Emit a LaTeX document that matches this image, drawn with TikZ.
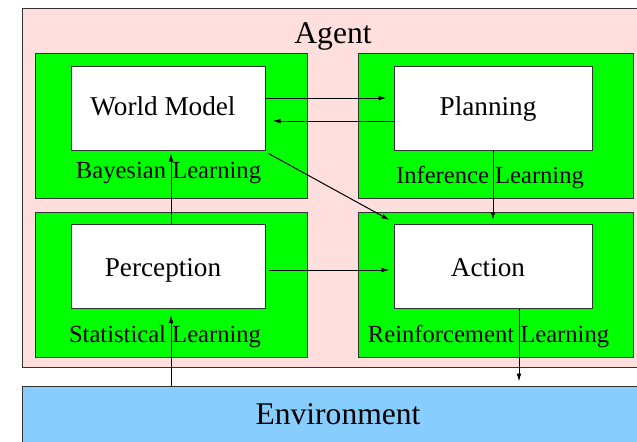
\documentclass[tikz,border=0pt]{standalone}
\usepackage{fontspec}
\setmainfont{Liberation Serif}
\usetikzlibrary{arrows.meta}
\definecolor{agentpink}{HTML}{FFDEDE}
\definecolor{envblue}{HTML}{87CEFF}

\begin{document}
\begin{tikzpicture}[x=0.5pt,y=-0.5pt,
  outer/.style={rectangle,draw=black!80,line width=0.5pt,inner sep=0pt},
  learn/.style={outer,fill=green,minimum height=72.5pt},
  part/.style={outer,fill=white,minimum height=42pt,text height=9.5pt,text depth=2.5pt,
    font=\fontsize{13.6}{16}\selectfont,execute at end node={\hspace{5pt}}},
  lowpart/.style={part,text height=11pt,text depth=1.5pt},
  lbl/.style={anchor=base,inner sep=0pt,font=\fontsize{12.3}{14}\selectfont},
  big/.style={anchor=base,inner sep=0pt,font=\fontsize{15.8}{19}\selectfont},
  arr/.style={-{Latex[length=4pt,width=2.4pt]},line width=0.5pt}]
\useasboundingbox (0,0) rectangle (637,441);
\clip (0,0) rectangle (637,441);

\node[outer,fill=agentpink,minimum width=319pt,minimum height=179.5pt] at (341.5,187.5) (agent) {};
\node[outer,fill=envblue,minimum width=319pt,minimum height=37pt] at (341.5,423) (env) {};
\node[big] at (333,43) (agenttext) {Agent};
\node[big] at (338,424) (envtext) {Environment};

\node[learn,minimum width=136pt] at (171,125.5) (bayes) {};
\node[learn,minimum width=137.5pt] at (495.5,125.5) (infer) {};
\node[learn,minimum width=136pt] at (171,284.5) (stat) {};
\node[learn,minimum width=137.5pt] at (495.5,284.5) (reinf) {};

\node[lbl] at (168.5,178) (bayestext) {Bayesian Learning};
\node[lbl] at (490,183) (infertext) {Inference Learning};
\node[lbl] at (165,342) (stattext) {Statistical Learning};
\node[lbl] at (488.5,342) (reinftext) {Reinforcement Learning};

\node[part,minimum width=97pt] at (168,108) (wm) {World Model};
\node[part,minimum width=99pt] at (493,108) (plan) {Planning};
\node[lowpart,minimum width=97pt] at (168,266.5) (perc) {Perception};
\node[lowpart,minimum width=99pt] at (493,266.5) (act) {Action};

\coordinate (pup) at ([xshift=1.5pt]perc.north);
\coordinate (pdown) at ([xshift=1.5pt]perc.south);
\coordinate (aout) at ([xshift=13pt]act.south);

\draw[arr,shorten >=3.5pt] ([yshift=5pt]wm.east) -- ([yshift=5pt]plan.west);
\draw[arr,shorten >=3.5pt] ([yshift=-6.5pt]plan.west) -- ([yshift=-6.5pt]wm.east);
\draw[arr] ([shift={(1.5pt,-1.5pt)}]wm.south east) -- ([shift={(-2pt,2pt)}]act.north west);
\draw[arr,shorten >=2pt] (plan.south) -- (act.north);
\draw[arr,shorten >=1.5pt] (pup) -- (pup |- wm.south);
\draw[arr,shorten >=2pt] ([shift={(1.5pt,-1.75pt)}]perc.east) -- ([yshift=-1.75pt]act.west);
\draw[arr,shorten >=3pt] (env.north -| pdown) -- (pdown);
\draw[arr,shorten >=2pt] (aout) -- (aout |- env.north);
\end{tikzpicture}
\end{document}
